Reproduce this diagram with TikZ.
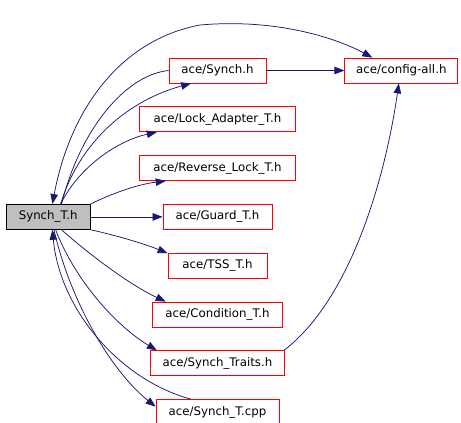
\documentclass[tikz,border=0pt]{standalone}
\usepackage{fontspec}
\setmainfont{DejaVu Sans}
\usepackage{tikz}
\usetikzlibrary{arrows.meta,positioning}
\definecolor{edgeblue}{HTML}{191970}
\definecolor{nodegray}{HTML}{BFBFBF}
\tikzset{
  box/.style  = {draw=red, fill=white, line width=0.8pt, align=center,
                 minimum height=25pt, inner sep=0pt, font=\fontsize{11.8}{14}\selectfont},
  hbox/.style = {box, draw=black, fill=nodegray},
  ar/.style   = {-{Triangle[length=10pt,width=7.5pt]}, draw=edgeblue, line width=0.75pt},
  bar/.style  = {{Triangle[length=10pt,width=7.5pt]}-{Triangle[length=10pt,width=7.5pt]},
                 draw=edgeblue, line width=0.75pt},
  ln/.style   = {draw=edgeblue, line width=0.75pt},
}
\begin{document}
\begin{tikzpicture}[x=1pt, y=-1pt, node distance=23pt and 72pt]
  \useasboundingbox (0,0) rectangle (461,423);
  % column of included headers
  \node[box, minimum width=97pt] (synch) at (217.5,70.5) {ace/Synch.h};
  \node[box, minimum width=113pt, right=78pt of synch] (cfg) {ace/config-all.h};
  \node[box, minimum width=156pt, below=of synch] (lock) {ace/Lock\_Adapter\_T.h};
  \node[box, minimum width=156pt, below=of lock] (rev) {ace/Reverse\_Lock\_T.h};
  \node[box, minimum width=109pt, below=of rev] (guard) {ace/Guard\_T.h};
  \node[box, minimum width=99pt, below=of guard] (tss) {ace/TSS\_T.h};
  \node[box, minimum width=130pt, below=of tss] (cond) {ace/Condition\_T.h};
  \node[box, minimum width=134pt, below=of cond] (traits) {ace/Synch\_Traits.h};
  \node[box, minimum width=123pt, below=of traits] (cpp) {ace/Synch\_T.cpp};
  \node[hbox, minimum width=84pt, left=of guard] (st) {Synch\_T.h};
  % edges
  \draw[bar] (st.72) .. controls (70,110) and (120,40) .. (200,25)
             .. controls (280,18) and (340,40) .. (cfg.156);
  \draw[ln] (synch.west) .. controls (125,75) and (80,130) .. (st.44);
  \draw[ar] (st.46) .. controls (80,140) and (130,100) .. (synch.206);
  \draw[ar] (synch) -- (cfg);
  \draw[ar] (st.46) .. controls (80,165) and (120,140) .. (lock.192);
  \draw[ar] (st.north east) .. controls (115,192) and (140,184) .. (rev.194);
  \draw[ar] (st) -- (guard);
  \draw[ar] (st.south east) .. controls (115,235) and (145,244) .. (tss.166);
  \draw[ar] (st.-44) .. controls (90,255) and (130,285) .. (cond.166);
  \draw[ar] (st.-60) .. controls (75,280) and (115,325) .. (traits.168);
  \draw[ar] (st.-66) .. controls (70,300) and (110,370) .. (cpp.175);
  \draw[ar] (cpp.154) .. controls (120,380) and (60,310) .. (st.-72);
  \draw[ar] (traits.11) .. controls (350,300) and (385,180) .. (cfg.259);
\end{tikzpicture}
\end{document}
